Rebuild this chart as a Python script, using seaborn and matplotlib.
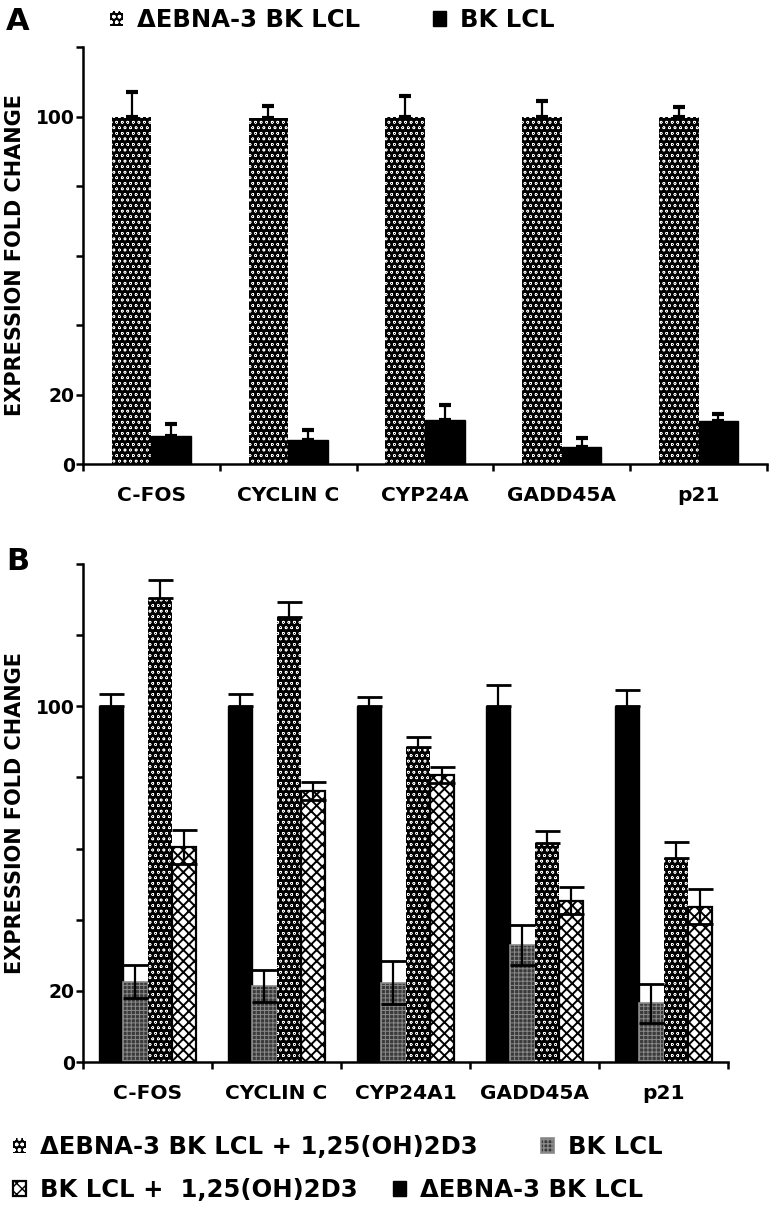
import numpy as np
import pandas as pd
import matplotlib
matplotlib.use("Agg")
import matplotlib.pyplot as plt
import seaborn as sns
from matplotlib.patches import Patch

# ---------------- data ----------------
genes_a = ["C-FOS", "CYCLIN C", "CYP24A", "GADD45A", "p21"]
series_a = ["ΔEBNA-3 BK LCL", "BK LCL"]
a_debna = [100, 99.5, 100, 100, 100]
a_debna_err = [7.0, 3.5, 6.0, 4.5, 2.8]
a_bk = [8.0, 7.0, 12.8, 4.8, 12.3]
a_bk_err = [3.4, 2.9, 4.3, 2.8, 2.2]

genes_b = ["C-FOS", "CYCLIN C", "CYP24A1", "GADD45A", "p21"]
series_b = ["ΔEBNA-3 BK LCL", "BK LCL",
            "ΔEBNA-3 BK LCL + 1,25(OH)2D3", "BK LCL +  1,25(OH)2D3"]
b_debna = [100, 100, 100, 100, 100]
b_debna_err = [3.5, 3.5, 2.5, 6.0, 4.5]
b_bk = [22.6, 21.4, 22.3, 32.9, 16.5]
b_bk_err = [4.7, 4.5, 6.0, 5.6, 5.5]
b_debna_d3 = [130.4, 125.0, 88.6, 61.5, 57.4]
b_debna_d3_err = [5.0, 4.2, 2.8, 3.5, 4.5]
b_bk_d3 = [60.4, 76.2, 80.7, 45.3, 43.7]
b_bk_d3_err = [4.7, 2.5, 2.3, 3.8, 4.9]

ylabel = "EXPRESSION FOLD CHANGE"

# ---------------- style ----------------
sns.set_style("ticks")
plt.rcParams["font.family"] = ["DejaVu Sans"]
plt.rcParams["font.weight"] = "bold"
plt.rcParams["hatch.linewidth"] = 1.0
for k in ("text.color", "axes.labelcolor", "xtick.color", "ytick.color",
          "axes.edgecolor"):
    plt.rcParams[k] = "black"

W, H = 773, 1221
fig = plt.figure(figsize=(W / 100, H / 100), dpi=100)

STY = {
    "black": dict(facecolor="black", edgecolor="black", linewidth=1.0, hatch=None, hlw=1.0),
    "dots": dict(facecolor="black", edgecolor="white", linewidth=0, hatch="ooo", hlw=0.4),
    "grey": dict(facecolor="#3a3a3a", edgecolor="#8a8a8a", linewidth=1.2, hatch="++++", hlw=0.7),
    "zig": dict(facecolor="white", edgecolor="black", linewidth=1.6, hatch="xxx", hlw=1.4),
}


def style_patch(p, sty):
    p.set_facecolor(sty["facecolor"])
    p.set_edgecolor(sty["edgecolor"])
    p.set_linewidth(sty["linewidth"])
    if sty["hatch"]:
        p.set_hatch(sty["hatch"])
        if hasattr(p, "set_hatch_linewidth"):
            p.set_hatch_linewidth(sty["hlw"])


def draw(ax, genes, series, values, errs, styles, width, lower_flags,
         capsize, elw, capthick):
    rows = []
    for s, vals in zip(series, values):
        for g, v in zip(genes, vals):
            rows.append(dict(gene=g, series=s, value=v))
    df = pd.DataFrame(rows)
    sns.barplot(data=df, x="gene", y="value", hue="series", order=genes,
                hue_order=series, width=width, errorbar=None,
                palette=["black"] * len(series), saturation=1, legend=False,
                ax=ax)
    for cont, sk, err, low in zip(ax.containers, styles, errs, lower_flags):
        xs, ys = [], []
        for p in cont.patches:
            style_patch(p, STY[sk])
            xs.append(p.get_x() + p.get_width() / 2)
            ys.append(p.get_height())
        lower = list(err) if low else [0] * len(err)
        ax.errorbar(xs, ys, yerr=[lower, list(err)], fmt="none", ecolor="black",
                    elinewidth=elw, capsize=capsize, capthick=capthick, zorder=4)


def finish(ax, ymax, labels):
    ax.set_xlim(-0.5, 4.5)
    ax.set_ylim(0, ymax)
    ticks = list(range(0, ymax + 1, 20))
    ax.set_yticks(ticks)
    ax.set_yticklabels(labels)
    ax.set_xticks([i - 0.5 for i in range(6)], minor=True)
    ax.tick_params(axis="x", which="major", length=0, pad=16, labelsize=14.5)
    ax.tick_params(axis="x", which="minor", length=5, width=1.8, direction="out")
    ax.tick_params(axis="y", which="major", length=5, width=1.8, pad=1,
                   labelsize=13.5)
    for lab in ax.get_xticklabels() + ax.get_yticklabels():
        lab.set_fontweight("bold")
    sns.despine(ax=ax)
    for s in ("left", "bottom"):
        ax.spines[s].set_linewidth(1.8)
    ax.set_xlabel("")
    ax.set_ylabel(ylabel, fontsize=15, fontweight="bold")
    ax.yaxis.label.set_va("center")
    ax.yaxis.label.set_ha("center")


# ---------------- panel A ----------------
axA = fig.add_axes([83 / W, 1 - 464 / H, 684 / W, 417 / H])
draw(axA, genes_a, series_a, [a_debna, a_bk], [a_debna_err, a_bk_err],
     ["dots", "black"], 0.58, [False, False], capsize=4, elw=1.6, capthick=3)
finish(axA, 120, ["0", "20", "", "", "", "100", ""])
axA.yaxis.set_label_coords((15 - 83) / 684, 0.5)

# ---------------- panel B ----------------
axB = fig.add_axes([83 / W, 1 - 1062 / H, 645 / W, 498 / H])
draw(axB, genes_b, series_b, [b_debna, b_bk, b_debna_d3, b_bk_d3],
     [b_debna_err, b_bk_err, b_debna_d3_err, b_bk_d3_err],
     ["black", "grey", "dots", "zig"], 0.75, [False, True, False, True],
     capsize=9, elw=1.6, capthick=2)
finish(axB, 140, ["0", "20", "", "", "", "100", "", ""])
axB.yaxis.set_label_coords((15 - 83) / 645, 0.5)

# ---------------- panel letters ----------------
fig.text(6 / W, 1 - 21 / H, "A", fontsize=22, fontweight="heavy", ha="left", va="center")
fig.text(6 / W, 1 - 561 / H, "B", fontsize=22, fontweight="heavy", ha="left", va="center")


# ---------------- legends ----------------
def add_leg(label, sk, x_px, y_px, fs=17.5):
    sty = STY[sk]
    h = Patch(facecolor=sty["facecolor"], edgecolor=sty["edgecolor"],
              linewidth=sty["linewidth"], hatch=sty["hatch"])
    if sty["hatch"] and hasattr(h, "set_hatch_linewidth"):
        h.set_hatch_linewidth(sty["hlw"])
    fig.legend(handles=[h], labels=[label], loc="center left",
               bbox_to_anchor=(x_px / W, 1 - y_px / H), frameon=False,
               borderpad=0, borderaxespad=0, handlelength=0.55,
               handleheight=0.55, handletextpad=0.55,
               prop=dict(size=fs, weight="bold"))


add_leg(series_a[0], "dots", 110, 20)
add_leg(series_a[1], "black", 433, 20)
add_leg(series_b[2], "dots", 13, 1147)
add_leg(series_b[1], "grey", 541, 1147)
add_leg(series_b[3], "zig", 13, 1190)
add_leg(series_b[0], "black", 393, 1190)

fig.savefig("out.png", dpi=100)
